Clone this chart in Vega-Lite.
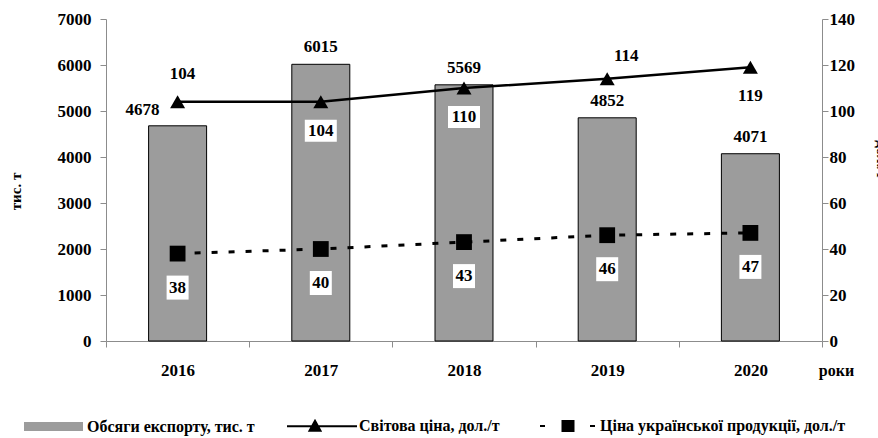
{
  "$schema": "https://vega.github.io/schema/vega-lite/v6.json",
  "width": 716,
  "height": 322,
  "autosize": {"type": "none"},
  "padding": {"left": 106, "top": 19, "right": 56, "bottom": 97},
  "background": "white",
  "config": {
    "font": "Liberation Serif",
    "view": {"stroke": null},
    "axis": {
      "labelFont": "Liberation Serif",
      "labelFontWeight": "bold",
      "labelFontSize": 17,
      "labelColor": "black",
      "titleFont": "Liberation Serif",
      "titleFontWeight": "bold",
      "titleColor": "black",
      "domainColor": "#8c8c8c",
      "tickColor": "#8c8c8c",
      "grid": false,
      "tickSize": 6
    },
    "text": {"font": "Liberation Serif", "fontWeight": "bold", "fontSize": 17, "color": "black", "align": "center", "baseline": "middle"}
  },
  "data": {
    "values": [
      {"year": "2016", "export": 4678, "world": 104, "ukr": 38},
      {"year": "2017", "export": 6015, "world": 104, "ukr": 40},
      {"year": "2018", "export": 5569, "world": 110, "ukr": 43},
      {"year": "2019", "export": 4852, "world": 114, "ukr": 46},
      {"year": "2020", "export": 4071, "world": 119, "ukr": 47}
    ]
  },
  "encoding": {
    "x": {
      "field": "year",
      "type": "ordinal",
      "scale": {"paddingInner": 0, "paddingOuter": 0},
      "axis": {
        "title": "роки",
        "titleX": 730,
        "titleY": 29,
        "titleAlign": "center",
        "titleBaseline": "middle",
        "titleFontSize": 16,
        "labelAngle": 0,
        "labelPadding": 15,
        "tickBand": "extent"
      }
    }
  },
  "layer": [
    {
      "layer": [
        {
          "mark": {"type": "bar", "width": {"band": 0.405}, "stroke": "black", "strokeWidth": 1},
          "encoding": {
            "y": {
              "field": "export",
              "type": "quantitative",
              "scale": {"domain": [0, 7000], "nice": false},
              "axis": {
                "title": "тис. т",
                "format": "d",
                "values": [0, 1000, 2000, 3000, 4000, 5000, 6000, 7000],
                "titleX": -91,
                "titleY": 172,
                "titleAngle": -90,
                "titleAlign": "center",
                "titleBaseline": "middle",
                "titleFontSize": 15,
                "labelPadding": 9
              }
            },
            "color": {
              "datum": "Обсяги експорту, тис. т",
              "scale": {
                "domain": ["Обсяги експорту, тис. т", "Світова ціна, дол./т", "Ціна української продукції, дол./т"],
                "range": ["#9c9c9c", "black", "black"]
              },
              "legend": {
                "orient": "none",
                "legendX": -91,
                "legendY": 396,
                "direction": "horizontal",
                "title": null,
                "padding": 0,
                "labelFont": "Liberation Serif",
                "labelFontWeight": "bold",
                "labelFontSize": 16,
                "labelColor": "black",
                "labelLimit": 500,
                "symbolSize": 400,
                "symbolStrokeWidth": 2,
                "labelOffset": 50,
                "columnPadding": 28,
                "symbolType": {"expr": "datum.value == 'Обсяги експорту, тис. т' ? 'M-0.1,-0.35H5.6V0.35H-0.1Z' : datum.value == 'Світова ціна, дол./т' ? 'M-1.1,0H5.9M1.7,-0.55L2.25,0.45L1.15,0.45Z' : 'M0.1,0H0.6M2.35,-0.5H3.45V0.5H2.35ZM5.1,0H5.6'"},
                "encode": {
                  "symbols": {
                    "fill": {
                      "condition": {"test": "datum.value == 'Обсяги експорту, тис. т'", "value": "#9c9c9c"},
                      "value": "black"
                    },
                    "stroke": {"value": "black"},
                    "strokeWidth": {
                      "condition": {"test": "datum.value == 'Обсяги експорту, тис. т'", "value": 0.5},
                      "value": 2.5
                    },
                    "opacity": {"value": 1}
                  }
                }
              }
            }
          }
        },
        {
          "transform": [{"filter": "datum.year != '2016'"}],
          "mark": {"type": "text", "dy": -17},
          "encoding": {
            "y": {"field": "export", "type": "quantitative"},
            "text": {"field": "export", "type": "quantitative", "format": "d"}
          }
        },
        {
          "transform": [{"filter": "datum.year == '2016'"}],
          "mark": {"type": "text", "dy": -16, "dx": -35},
          "encoding": {
            "y": {"field": "export", "type": "quantitative"},
            "text": {"field": "export", "type": "quantitative", "format": "d"}
          }
        }
      ]
    },
    {
      "layer": [
        {
          "mark": {"type": "line", "strokeWidth": 2.5},
          "encoding": {
            "y": {
              "field": "world",
              "type": "quantitative",
              "title": "дол./т",
              "scale": {"domain": [0, 140], "nice": false},
              "axis": {
                "orient": "right",
                "values": [0, 20, 40, 60, 80, 100, 120, 140],
                "labelPadding": 1,
                "titleX": 51,
                "titleY": 140,
                "titleAngle": 90,
                "titleAlign": "center",
                "titleBaseline": "bottom",
                "titleFontSize": 15
              }
            },
            "color": {"datum": "Світова ціна, дол./т"}
          }
        },
        {
          "mark": {"type": "point", "shape": "triangle-up", "size": 225, "filled": true, "opacity": 1},
          "encoding": {
            "y": {"field": "world", "type": "quantitative", "title": "дол./т", "scale": {"domain": [0, 140], "nice": false}},
            "color": {"datum": "Світова ціна, дол./т"}
          }
        },
        {
          "mark": {"type": "line", "strokeWidth": 3, "strokeDash": [6, 11]},
          "encoding": {
            "y": {"field": "ukr", "type": "quantitative", "title": "дол./т", "scale": {"domain": [0, 140], "nice": false}},
            "color": {"datum": "Ціна української продукції, дол./т"}
          }
        },
        {
          "mark": {"type": "point", "shape": "square", "size": 250, "filled": true, "opacity": 1},
          "encoding": {
            "y": {"field": "ukr", "type": "quantitative", "title": "дол./т", "scale": {"domain": [0, 140], "nice": false}},
            "color": {"datum": "Ціна української продукції, дол./т"}
          }
        },
        {
          "transform": [{"filter": "datum.year == '2017' || datum.year == '2018' || datum.year == '2020'"}],
          "mark": {"type": "point", "shape": "M-1.6,-1.1H1.6V1.1H-1.6Z", "size": 400, "filled": true, "color": "white", "opacity": 1, "strokeWidth": 0, "yOffset": 29},
          "encoding": {
            "y": {"field": "world", "type": "quantitative", "title": "дол./т", "scale": {"domain": [0, 140], "nice": false}}
          }
        },
        {
          "transform": [{"filter": "datum.year == '2017' || datum.year == '2018' || datum.year == '2020'"}],
          "mark": {"type": "text", "dy": 29},
          "encoding": {
            "y": {"field": "world", "type": "quantitative", "title": "дол./т", "scale": {"domain": [0, 140], "nice": false}},
            "text": {"field": "world", "type": "quantitative"}
          }
        },
        {
          "transform": [{"filter": "datum.year == '2016'"}],
          "mark": {"type": "text", "dy": -28, "dx": 5},
          "encoding": {
            "y": {"field": "world", "type": "quantitative", "title": "дол./т", "scale": {"domain": [0, 140], "nice": false}},
            "text": {"field": "world", "type": "quantitative"}
          }
        },
        {
          "transform": [{"filter": "datum.year == '2019'"}],
          "mark": {"type": "text", "dy": -23, "dx": 19},
          "encoding": {
            "y": {"field": "world", "type": "quantitative", "title": "дол./т", "scale": {"domain": [0, 140], "nice": false}},
            "text": {"field": "world", "type": "quantitative"}
          }
        },
        {
          "mark": {"type": "point", "shape": "M-1.1,-1.2H1.1V1.2H-1.1Z", "size": 400, "filled": true, "color": "white", "opacity": 1, "strokeWidth": 0, "yOffset": 34},
          "encoding": {
            "y": {"field": "ukr", "type": "quantitative", "title": "дол./т", "scale": {"domain": [0, 140], "nice": false}}
          }
        },
        {
          "mark": {"type": "text", "dy": 34},
          "encoding": {
            "y": {"field": "ukr", "type": "quantitative", "title": "дол./т", "scale": {"domain": [0, 140], "nice": false}},
            "text": {"field": "ukr", "type": "quantitative"}
          }
        }
      ]
    }
  ],
  "resolve": {"scale": {"y": "independent"}}
}
